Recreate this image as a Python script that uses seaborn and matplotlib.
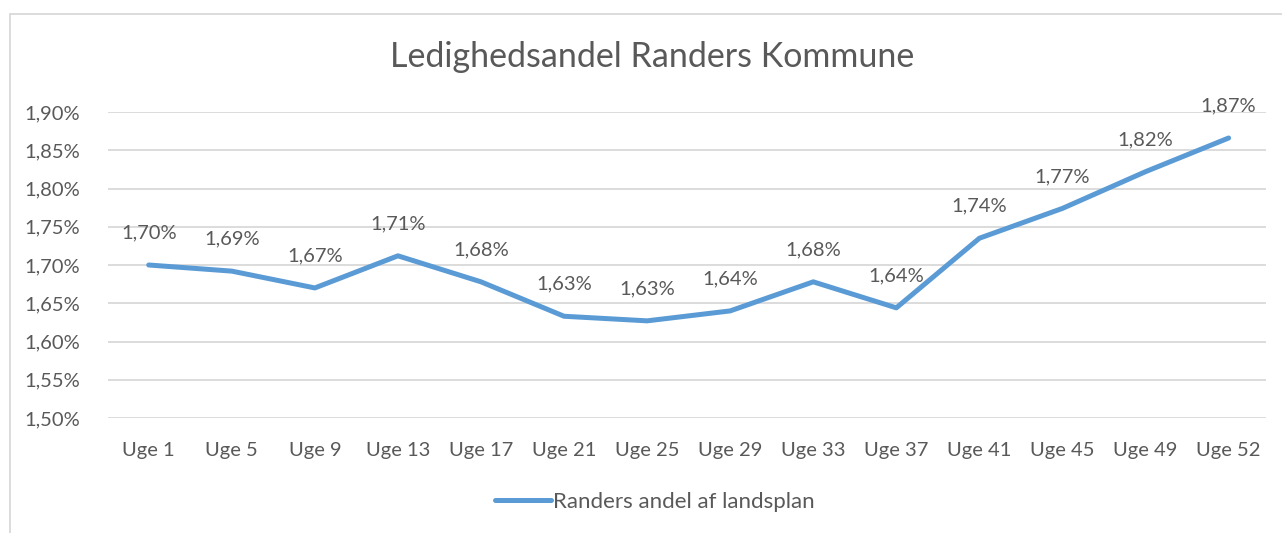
import matplotlib
matplotlib.use("Agg")
import matplotlib.pyplot as plt
import seaborn as sns
import pandas as pd
from matplotlib.lines import Line2D

# --- data ---
weeks = ["Uge 1", "Uge 5", "Uge 9", "Uge 13", "Uge 17", "Uge 21", "Uge 25",
         "Uge 29", "Uge 33", "Uge 37", "Uge 41", "Uge 45", "Uge 49", "Uge 52"]
share = [1.700, 1.692, 1.670, 1.712, 1.678, 1.633, 1.627,
         1.640, 1.678, 1.644, 1.735, 1.774, 1.822, 1.866]
yticks = [1.50, 1.55, 1.60, 1.65, 1.70, 1.75, 1.80, 1.85, 1.90]
series_name = "Randers andel af landsplan"
title = "Ledighedsandel Randers Kommune"

df = pd.DataFrame({"pos": range(len(weeks)), "share": share})

sns.set_theme(style="white")
plt.rcParams["font.family"] = ["Lato", "DejaVu Sans"]
text_col = "#595959"
line_col = "#5b9bd5"
grid_col = "#d9d9d9"

W, H = 1282, 533
fig = plt.figure(figsize=(W / 100, H / 100), dpi=100)
ax = fig.add_axes([108 / W, 1 - 418 / H, (1266 - 108) / W, (418 - 112) / H])

sns.lineplot(data=df, x="pos", y="share", ax=ax, color=line_col, linewidth=3.6,
             solid_capstyle="round", solid_joinstyle="round", legend=False)

for x, y in zip(df["pos"], df["share"]):
    ax.annotate(f"{y:.2f}%".replace(".", ","), (x, y), xytext=(0, 32),
                textcoords="offset pixels", ha="center", va="center",
                fontsize=14.5, color=text_col)

ax.set_xlim(-0.49, 13.45)
ax.set_ylim(1.50, 1.90)
ax.set_yticks(yticks)
ax.set_yticklabels([f"{v:.2f}%".replace(".", ",") for v in yticks])
ax.set_xticks(range(len(weeks)))
ax.set_xticklabels(weeks)
ax.tick_params(axis="both", labelsize=14.5, colors=text_col, length=0)
ax.tick_params(axis="x", pad=17)
ax.tick_params(axis="y", pad=20)
ax.grid(axis="y", color=grid_col, linewidth=1.3)
ax.set_axisbelow(True)
for s in ax.spines.values():
    s.set_visible(False)
ax.set_xlabel("")
ax.set_ylabel("")

fig.text(652 / W, 1 - 57 / H, title, ha="center", va="center",
         fontsize=24.5, color=text_col)

handle = Line2D([0], [0], color=line_col, linewidth=3.6, solid_capstyle="round")
fig.legend([handle], [series_name], loc="center", bbox_to_anchor=(655 / W, 1 - 502 / H),
           frameon=False, fontsize=16, labelcolor=text_col, handlelength=2.5,
           handletextpad=0.12)

# chart frame (left and top edges visible)
fig.add_artist(Line2D([9.5 / W, 9.5 / W], [0, 1 - 14 / H], color=grid_col, linewidth=1.3))
fig.add_artist(Line2D([9.5 / W, 1], [1 - 14 / H, 1 - 14 / H], color=grid_col, linewidth=1.3))

fig.savefig("out.png", dpi=100, facecolor="white")
